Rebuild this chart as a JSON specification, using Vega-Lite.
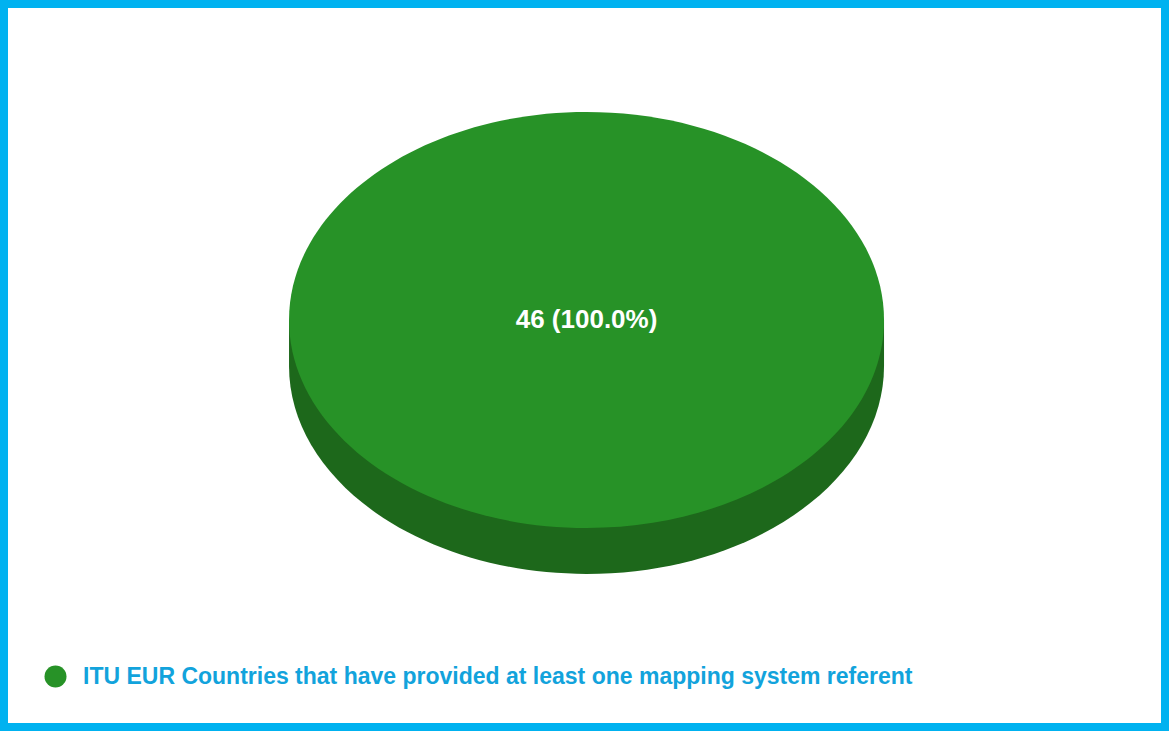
{
  "$schema": "https://vega.github.io/schema/vega-lite/v6.json",
  "autosize": {"type": "fit", "contains": "padding"},
  "width": 1169,
  "height": 731,
  "padding": 4,
  "background": "white",
  "data": {"values": [
    {"category": "ITU EUR Countries that have provided at least one mapping system referent", "value": 46, "label": "46 (100.0%)"}
  ]},
  "encoding": {
    "x": {"datum": 0, "type": "quantitative", "scale": {"domain": [-1.007, 1], "nice": false, "zero": false}, "axis": null},
    "y": {"datum": 0, "type": "quantitative", "scale": {"domain": [-1.288, 1], "nice": false, "zero": false}, "axis": null}
  },
  "layer": [
    {
      "mark": {"type": "point", "filled": true, "opacity": 1, "size": 354025, "color": "#1d681b",
        "shape": "M -1 0 L -1 0.1546 A 1 0.699 0 0 0 1 0.1546 L 1 0 Z"}
    },
    {
      "mark": {"type": "point", "filled": true, "opacity": 1, "size": 354025,
        "shape": "M -1 0 A 1 0.699 0 1 1 1 0 A 1 0.699 0 1 1 -1 0 Z"},
      "encoding": {
        "color": {"field": "category", "type": "nominal",
          "scale": {"range": ["#279227"]},
          "legend": {"title": null, "orient": "none", "legendX": 40, "legendY": 661,
            "symbolType": "circle", "symbolSize": 484, "symbolStrokeWidth": 0, "symbolOpacity": 1,
            "labelFont": "Liberation Sans", "labelFontSize": 23, "labelFontWeight": "bold",
            "labelColor": "#12a3dc", "labelLimit": 2000, "labelOffset": 16, "padding": 0}}
      }
    },
    {
      "mark": {"type": "text", "font": "Liberation Sans", "fontSize": 26, "fontWeight": "bold", "color": "white", "align": "center", "baseline": "middle"},
      "encoding": {"text": {"field": "label"}}
    }
  ],
  "config": {"view": {"stroke": "#00b2f0", "strokeWidth": 8}}
}
